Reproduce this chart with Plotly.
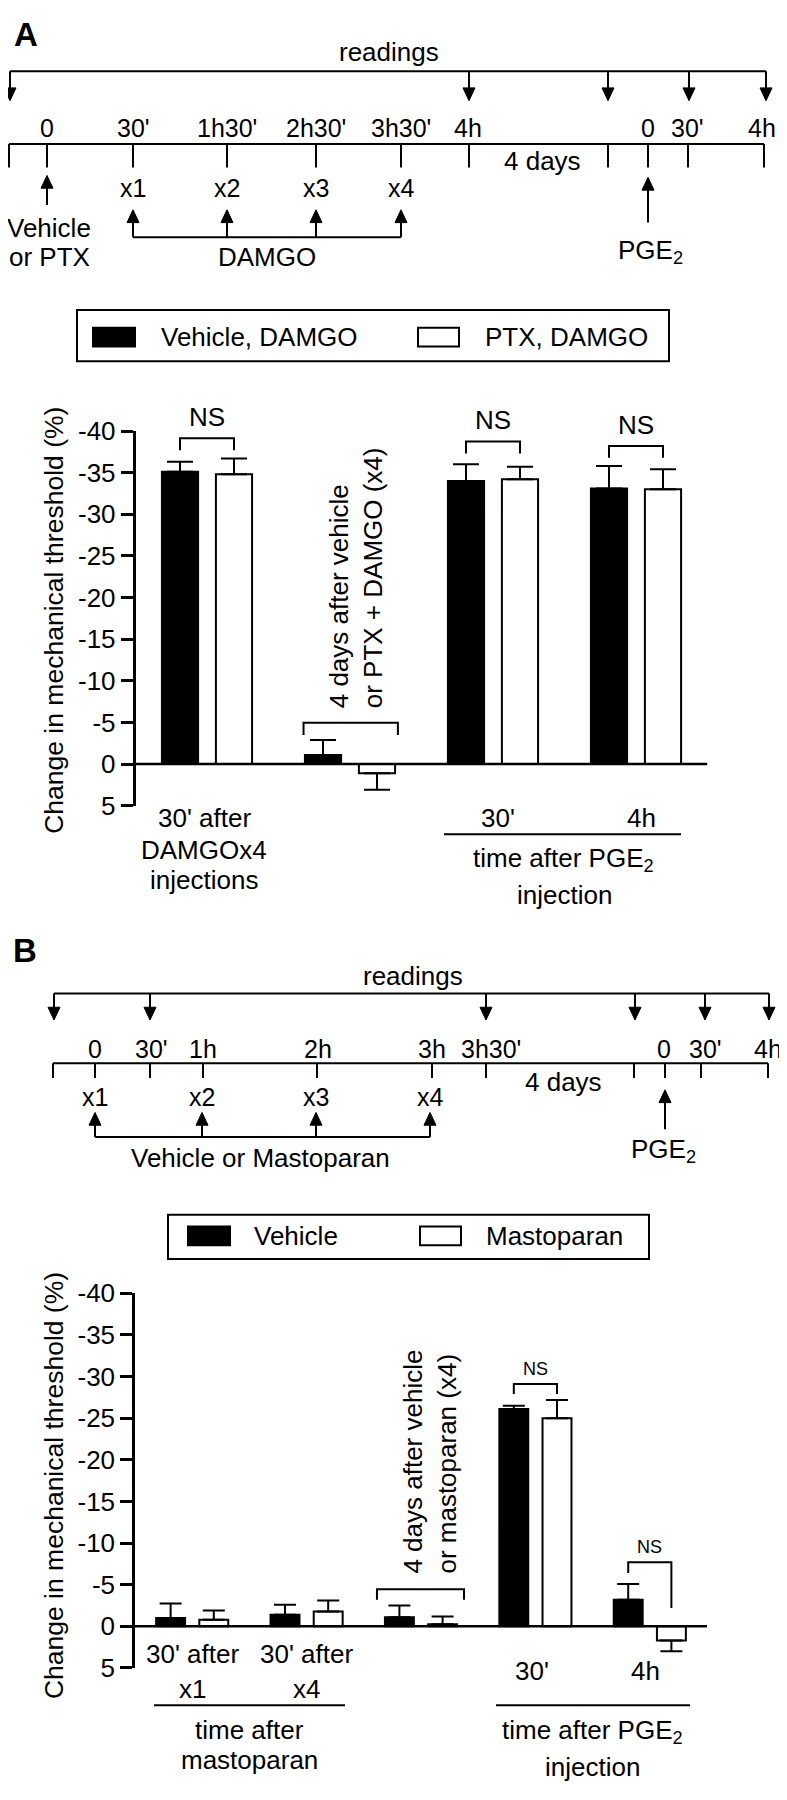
import plotly.graph_objects as go

W, H = 787, 1800          # browser window
OX, OY = 8, 8             # default page (body) margin that offsets the figure
FW, FH = W - OX, H - OY   # figure size so that it fills the window exactly
FONT = "Liberation Sans, Arial, Helvetica, sans-serif"

# ---------------- data: panel A ----------------
groups_A = ["30' after DAMGOx4 injections",
            "4 days after vehicle or PTX + DAMGO (x4)",
            "30' after PGE2", "4h after PGE2"]
veh_A = [-35.1, -1.1, -34.0, -33.1]
veh_A_err = [1.2, 1.8, 2.0, 2.7]
ptx_A = [-34.8, 1.1, -34.2, -33.0]
ptx_A_err = [1.9, 2.0, 1.5, 2.4]
legend_A = ["Vehicle, DAMGO", "PTX, DAMGO"]

# ---------------- data: panel B ----------------
groups_B = ["30' after x1", "30' after x4",
            "4 days after vehicle or mastoparan (x4)",
            "30' after PGE2", "4h after PGE2"]
veh_B = [-1.0, -1.4, -1.1, -26.1, -3.2]
veh_B_err = [1.75, 1.2, 1.4, 0.4, 1.9]
mas_B = [-0.8, -1.8, -0.25, -25.0, 1.7]
mas_B_err = [1.1, 1.3, 0.95, 2.2, 1.3]
legend_B = ["Vehicle", "Mastoparan"]

y_ticks = [-40, -35, -30, -25, -20, -15, -10, -5, 0, 5]
y_ticktext = ["-40", "-35", "-30", "-25", "-20", "-15", "-10", "-5", "0", "5"]
y_title = "Change in mechanical threshold (%)"

# timeline texts
tl_A_times = ["0", "30'", "1h30'", "2h30'", "3h30'", "4h", "0", "30'", "4h"]
tl_B_times = ["0", "30'", "1h", "2h", "3h", "3h30'", "0", "30'", "4h"]
inj_labels = ["x1", "x2", "x3", "x4"]

# ---------------- layout constants (window pixels) ----------------
BARGAP, GROUPGAP = 0.245, 0.33
HALF = (1 - BARGAP) / 4          # offset of a bar centre from its group centre

A_tl_time_x = [47, 133, 227, 316, 401, 468, 648, 687, 762]
A_tl_tick_x = [9, 47, 133, 227, 316, 401, 469, 608, 648, 688, 764]
A_tl_read_x = [10, 469, 608, 689, 766]
A_inj_x = [133, 227, 316, 401]

B_tl_time_x = [95, 151, 203, 318, 432, 491, 664, 705, 768]
B_tl_tick_x = [53, 95, 150, 203, 317, 432, 486, 634, 665, 701, 768]
B_tl_read_x = [54, 150, 486, 635, 705, 769]
B_inj_x = [95, 202, 316, 430]


def px(x):
    return (x - OX) / FW


def py(y):
    return 1 - (y - OY) / FH


shapes = []
annotations = []


def line(x0, y0, x1, y1, w=2):
    shapes.append(dict(type='line', xref='paper', yref='paper',
                       x0=px(x0), y0=py(y0), x1=px(x1), y1=py(y1),
                       line=dict(color='black', width=w)))


def tri(x, tip, d):
    base = tip - 13 * d
    path = (f"M {px(x - 6)},{py(base)} L {px(x + 6)},{py(base)} "
            f"L {px(x)},{py(tip)} Z")
    shapes.append(dict(type='path', xref='paper', yref='paper', path=path,
                       fillcolor='black', line=dict(color='black', width=1)))


def arrow(x, tail, tip):
    d = 1 if tip > tail else -1
    line(x, tail, x, tip - 11 * d)
    tri(x, tip, d)


def text(x, y, s, size=25, xanchor='center', **kw):
    annotations.append(dict(xref='paper', yref='paper', x=px(x), y=py(y),
                            text=s, showarrow=False, xanchor=xanchor,
                            yanchor='middle',
                            font=dict(family=FONT, size=size, color='black'),
                            **kw))


def rect(x0, y0, x1, y1, fill):
    shapes.append(dict(type='rect', xref='paper', yref='paper',
                       x0=px(x0), y0=py(y0), x1=px(x1), y1=py(y1),
                       fillcolor=fill, line=dict(color='black', width=2)))


def bracket(xr, yr, xa, xb, top, leg_a, leg_b, w=2):
    shapes.append(dict(type='path', xref=xr, yref=yr,
                       path=f"M {xa},{leg_a} L {xa},{top} L {xb},{top} L {xb},{leg_b}",
                       line=dict(color='black', width=w)))


def data_text(xr, yr, x, y, s, size, yshift=0, xshift=0, **kw):
    annotations.append(dict(xref=xr, yref=yr, x=x, y=y, text=s,
                            showarrow=False, yshift=yshift, xshift=xshift,
                            font=dict(family=FONT, size=size, color='black'),
                            **kw))


# ================= Panel A : timeline =================
text(26, 20, "<b>A</b>", size=33)
text(389, 38, "readings", size=26)
line(10, 57, 766, 57)
for x in A_tl_read_x:
    arrow(x, 57, 87)
for x, s in zip(A_tl_time_x, tl_A_times):
    text(x, 115, s)
line(9, 131, 764, 131)
for x in A_tl_tick_x:
    line(x, 131, x, 155)
text(542, 148, "4 days", size=26)
arrow(47, 193, 163)
text(49, 216, "Vehicle", size=26)
text(49, 246, "or PTX", size=26)
for x, s in zip(A_inj_x, inj_labels):
    text(x, 176, s)
    arrow(x, 226, 198)
line(A_inj_x[0], 226, A_inj_x[-1], 226)
text(267, 246, "DAMGO", size=26)
arrow(648, 211, 165)
text(650, 240, "PGE<sub>2</sub>", size=26)

# legend A
rect(77, 300, 669, 352, 'rgba(0,0,0,0)')
rect(93, 318, 135, 337, 'black')
text(159, 327, legend_A[0], size=26, xanchor='left')
rect(418, 318, 459, 337, 'white')
text(483, 327, legend_A[1], size=26, xanchor='left')

# ================= Panel B : timeline =================
text(25, 951, "<b>B</b>", size=33)
text(413, 977, "readings", size=26)
line(54, 995, 769, 995)
for x in B_tl_read_x:
    arrow(x, 995, 1022)
for x, s in zip(B_tl_time_x, tl_B_times):
    text(x, 1051, s)
line(53, 1066, 768, 1066)
for x in B_tl_tick_x:
    line(x, 1066, x, 1081)
text(563, 1085, "4 days", size=26)
for x, s in zip(B_inj_x, inj_labels):
    text(x, 1100, s)
    arrow(x, 1141, 1116)
line(B_inj_x[0], 1141, B_inj_x[-1], 1141)
text(260, 1162, "Vehicle or Mastoparan", size=26)
arrow(665, 1133, 1093)
text(663, 1155, "PGE<sub>2</sub>", size=26)

# legend B
rect(168, 1220, 649, 1265, 'rgba(0,0,0,0)')
rect(188, 1232, 230, 1251, 'black')
text(252, 1242, legend_B[0], size=26, xanchor='left')
rect(420, 1232, 461, 1251, 'white')
text(484, 1242, legend_B[1], size=26, xanchor='left')

# ================= bar charts =================
fig = go.Figure()


def add_bars(xa, ya, vals, errs, fill, name, groups, cap):
    plus = [e if v > 0 else 0 for v, e in zip(vals, errs)]
    minus = [e if v <= 0 else 0 for v, e in zip(vals, errs)]
    fig.add_trace(go.Bar(
        x=list(range(len(vals))), y=vals, xaxis=xa, yaxis=ya, name=name,
        hovertext=groups, showlegend=False,
        marker=dict(color=fill, line=dict(color='black', width=2)),
        error_y=dict(type='data', symmetric=False, array=plus,
                     arrayminus=minus, color='black', thickness=2,
                     width=cap)))


add_bars('x', 'y', veh_A, veh_A_err, 'black', legend_A[0], groups_A, 13)
add_bars('x', 'y', ptx_A, ptx_A_err, 'white', legend_A[1], groups_A, 13)
add_bars('x2', 'y2', veh_B, veh_B_err, 'black', legend_B[0], groups_B, 11)
add_bars('x2', 'y2', mas_B, mas_B_err, 'white', legend_B[1], groups_B, 11)

nA, nB = len(veh_A), len(veh_B)

# zero lines
shapes.append(dict(type='line', xref='x', yref='y', x0=-0.5, x1=nA - 0.5,
                   y0=0, y1=0, line=dict(color='black', width=2.5)))
shapes.append(dict(type='line', xref='x2', yref='y2', x0=-0.5, x1=nB - 0.5,
                   y0=0, y1=0, line=dict(color='black', width=2.5)))

# brackets / NS  (panel A)
bracket('x', 'y', 0 - HALF, 0 + HALF, -39.15, -37.7, -37.7)
data_text('x', 'y', 0, -39.15, "NS", 26, yshift=21)
bracket('x', 'y', 2 - HALF, 2 + HALF, -38.75, -37.3, -37.3)
data_text('x', 'y', 2, -38.75, "NS", 26, yshift=21)
bracket('x', 'y', 3 - HALF, 3 + HALF, -38.2, -36.8, -36.8)
data_text('x', 'y', 3, -38.2, "NS", 26, yshift=21)
bracket('x', 'y', 1 - 0.325, 1 + 0.335, -4.95, -3.5, -3.5)
data_text('x', 'y', 1, -6.4, "4 days after vehicle<br>or PTX + DAMGO (x4)", 26,
          xshift=6, textangle=-90, align='left', xanchor='center',
          yanchor='bottom')

# brackets / NS  (panel B)
bracket('x2', 'y2', 2 - 0.385, 2 + 0.376, -4.45, -3.2, -3.2)
data_text('x2', 'y2', 2, -6.1, "4 days after vehicle<br>or mastoparan (x4)", 26,
          xshift=9, textangle=-90, align='left', xanchor='center',
          yanchor='bottom')
bracket('x2', 'y2', 3 - HALF, 3 + HALF, -29.1, -27.9, -27.9)
data_text('x2', 'y2', 3, -29.1, "NS", 18, yshift=15)
bracket('x2', 'y2', 4 - HALF, 4 + HALF, -7.7, -6.4, -2.2)
data_text('x2', 'y2', 4, -7.7, "NS", 18, yshift=15)

# axis titles
text(54, 616, y_title, size=26.5, textangle=-90)
text(54, 1496, y_title, size=26.5, textangle=-90)

# category labels under panel A
text(204, 817, "30' after", size=26)
text(204, 849, "DAMGOx4", size=26)
text(204, 880, "injections", size=26)
text(498, 817, "30'", size=26)
text(641, 817, "4h", size=26)
line(444, 833, 681, 833)
text(563, 859, "time after PGE<sub>2</sub>", size=26)
text(564, 895, "injection", size=26)

# category labels under panel B
for x, s in zip([192, 306], ["x1", "x4"]):
    text(x, 1667, "30' after", size=26)
    text(x, 1702, s, size=26)
line(154, 1719, 345, 1719)
text(249, 1744, "time after", size=26)
text(249, 1775, "mastoparan", size=26)
text(532, 1684, "30'", size=26)
text(645, 1684, "4h", size=26)
line(496, 1719, 690, 1719)
text(592, 1746, "time after PGE<sub>2</sub>", size=26)
text(592, 1782, "injection", size=26)

yax = dict(range=[5, -40], tickvals=y_ticks, ticktext=y_ticktext,
           ticks='outside', ticklen=12, tickwidth=2.5, tickcolor='black',
           showline=True, linewidth=2.5, linecolor='black', showgrid=False,
           zeroline=False, fixedrange=True,
           tickfont=dict(family=FONT, size=26, color='black'))

fig.update_layout(
    width=FW, height=FH, margin=dict(l=0, r=0, t=0, b=0),
    paper_bgcolor='white', plot_bgcolor='white',
    barmode='group', bargap=BARGAP, bargroupgap=GROUPGAP,
    font=dict(family=FONT, color='black'),
    showlegend=False,
    xaxis=dict(domain=[px(135.5), px(707.5)], range=[-0.5, nA - 0.5],
               visible=False, anchor='y', fixedrange=True),
    yaxis=dict(domain=[py(804), py(423)], anchor='x', **yax),
    xaxis2=dict(domain=[px(135), px(707)], range=[-0.5, nB - 0.5],
                visible=False, anchor='y2', fixedrange=True),
    yaxis2=dict(domain=[py(1681), py(1300)], anchor='x2', **yax),
    shapes=shapes, annotations=annotations,
)

fig.write_html("out.html")
